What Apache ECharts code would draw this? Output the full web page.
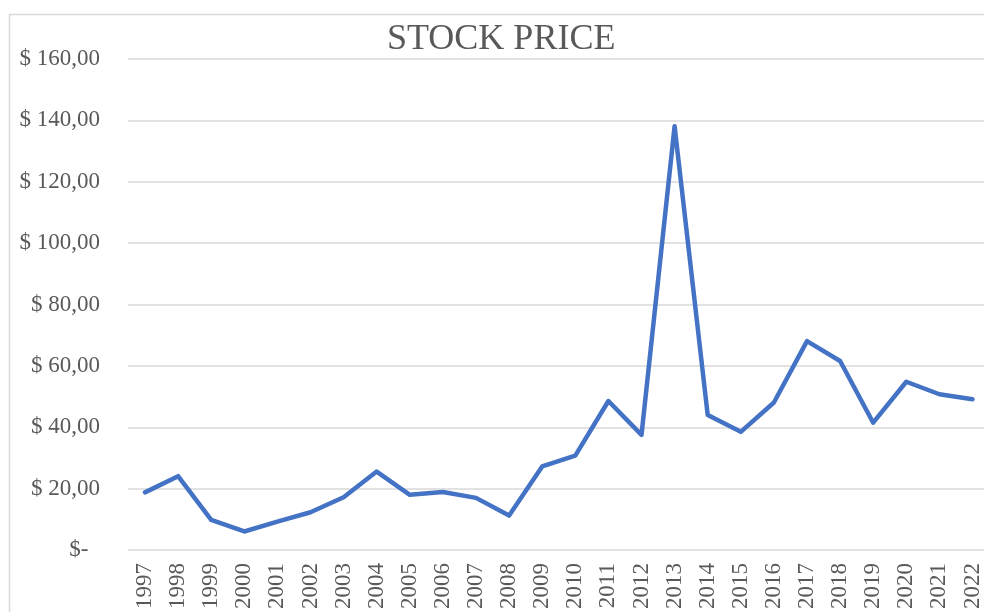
<!DOCTYPE html>
<html>
<head>
<meta charset="utf-8">
<script src="https://cdn.jsdelivr.net/npm/echarts@6/dist/echarts.min.js"></script>
<style>
  html, body { margin: 0; padding: 0; background: #fff; }
  #chart { width: 984px; height: 612px; }
</style>
</head>
<body>
<div id="chart"></div>
<script>
var years = ['1997', '1998', '1999', '2000', '2001', '2002', '2003', '2004', '2005', '2006',
    '2007', '2008', '2009', '2010', '2011', '2012', '2013', '2014', '2015', '2016',
    '2017', '2018', '2019', '2020', '2021', '2022'];
var prices = [18.2, 23.5, 9.2, 5.4, 8.6, 11.7, 16.6, 25.0, 17.4, 18.3,
    16.4, 10.6, 26.7, 30.2, 48.1, 37.0, 138.0, 43.5, 38.0, 47.6,
    67.7, 61.2, 41.0, 54.4, 50.3, 48.7];

// formato contabile come in Excel
function money(v) {
    if (v === 0) return '$-  ';
    return '$ ' + v.toFixed(2).replace('.', ',');
}

var font = 'Liberation Serif';
var top_ = 59, bottom_ = 62;

var option = {
    animation: false,
    title: {
        text: 'STOCK PRICE',
        left: 382,
        top: 17,
        textStyle: {
            fontFamily: font,
            fontWeight: 'normal',
            fontSize: 36,
            color: '#595959'
        }
    },
    graphic: [{
        type: 'rect',
        left: 7,
        top: 12,
        shape: { width: 1000, height: 700 },
        style: { fill: 'none', stroke: '#d9d9d9', lineWidth: 1.5 },
        silent: true
    }],
    // grid 0: linee e etichette asse y; grid 1: la serie
    grid: [
        { left: 128, right: 0, top: top_, bottom: bottom_ },
        { left: 145, right: 9, top: top_, bottom: bottom_ }
    ],
    xAxis: [{
        gridIndex: 0,
        type: 'category',
        data: years,
        show: false
    }, {
        gridIndex: 1,
        type: 'category',
        data: years,
        boundaryGap: false,
        axisLine: { show: false },
        axisTick: { show: false },
        axisLabel: {
            rotate: 90,
            margin: 15,
            fontFamily: font,
            fontSize: 23,
            color: '#595959',
            interval: 0
        }
    }],
    yAxis: [{
        gridIndex: 0,
        type: 'value',
        min: 0,
        max: 160,
        interval: 20,
        axisLine: { show: false },
        axisTick: { show: false },
        splitLine: { lineStyle: { color: '#d9d9d9', width: 1.5 } },
        axisLabel: {
            margin: 28,
            fontFamily: font,
            fontSize: 23,
            color: '#595959',
            formatter: money
        }
    }, {
        gridIndex: 1,
        type: 'value',
        min: 0,
        max: 160,
        interval: 20,
        show: false,
        splitLine: { show: false }
    }],
    series: [{
        type: 'line',
        xAxisIndex: 1,
        yAxisIndex: 1,
        data: prices,
        symbol: 'none',
        lineStyle: { color: '#4472c4', width: 4.5, cap: 'round', join: 'round' }
    }]
};

var chart = echarts.init(document.getElementById('chart'));
chart.setOption(option);
</script>
</body>
</html>
